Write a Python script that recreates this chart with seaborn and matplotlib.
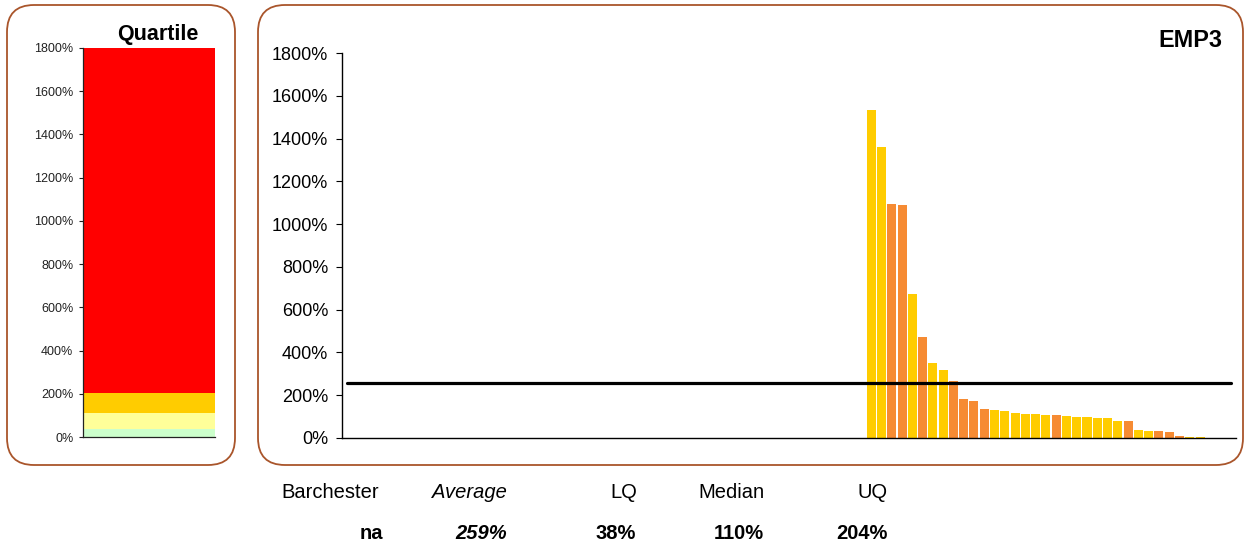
import numpy as np
import pandas as pd
import matplotlib
matplotlib.use("Agg")
import matplotlib.pyplot as plt
from matplotlib.patches import FancyBboxPatch
from matplotlib.ticker import FuncFormatter, MultipleLocator
import seaborn as sns

# ---- data ------------------------------------------------------------
n_slots = 87                      # category slots on the main axis
first_slot = 51                   # first organisation with a value
emp3_values = [1534, 1362, 1096, 1091, 672, 471, 350, 317, 266, 182,
               173, 135, 130, 126, 117, 112, 112, 107, 107, 103,
               98, 98, 93, 93, 79, 79, 37, 33, 33, 28,
               9, 4, 4]
emp3_groups = ["Y", "Y", "O", "O", "Y", "O", "Y", "Y", "O", "O",
               "O", "O", "Y", "Y", "Y", "Y", "Y", "Y", "O", "Y",
               "Y", "Y", "Y", "Y", "Y", "O", "Y", "Y", "O", "O",
               "O", "Y", "Y"]
average = 259
lq, median, uq, y_max = 38, 110, 204, 1800

quartile_bands = ["Top", "UQ", "Median", "LQ"]
quartile_tops = [y_max, uq, median, lq]

stat_headers = ["Barchester", "Average", "LQ", "Median", "UQ"]
stat_values = ["na", "259%", "38%", "110%", "204%"]

# ---- style -----------------------------------------------------------
sns.set_theme(style="white")
plt.rcParams["font.family"] = ["Liberation Sans", "DejaVu Sans"]
plt.rcParams["text.color"] = "black"

W, H = 1246, 544
fig = plt.figure(figsize=(W / 100, H / 100), dpi=100)


def px_axes(left, top, right, bottom):
    return fig.add_axes([left / W, (H - bottom) / H,
                         (right - left) / W, (bottom - top) / H])


edge_col = "#A9552B"
for (x0, y0, x1, y1) in [(7, 5, 235, 465), (258, 5, 1243, 465)]:
    box = FancyBboxPatch((x0 / 100, (H - y1) / 100),
                         (x1 - x0) / 100, (y1 - y0) / 100,
                         boxstyle="round,pad=0,rounding_size=0.27",
                         transform=fig.dpi_scale_trans,
                         facecolor="none", edgecolor=edge_col,
                         linewidth=1.3, zorder=-1)
    fig.patches.append(box)

pct = FuncFormatter(lambda v, _: f"{int(round(v))}%")

# ---- quartile panel --------------------------------------------------
axq = px_axes(83, 48, 215, 437)
axq.set_facecolor("none")
qdf = pd.DataFrame({"panel": ["q"] * 4, "band": quartile_bands,
                    "top": quartile_tops})
sns.barplot(data=qdf, x="panel", y="top", hue="band",
            hue_order=quartile_bands, dodge=False, width=1.0,
            palette=["#FF0000", "#FFCC00", "#FFFF99", "#CCFFCC"],
            saturation=1, linewidth=0, legend=False, ax=axq)
axq.set_xlim(-0.5, 0.5)
axq.set_ylim(0, y_max)
axq.yaxis.set_major_locator(MultipleLocator(200))
axq.yaxis.set_major_formatter(pct)
axq.set_xlabel("")
axq.set_ylabel("")
axq.set_xticks([])
for s in ["top", "right"]:
    axq.spines[s].set_visible(False)
for s in ["left", "bottom"]:
    axq.spines[s].set_color("#222222")
    axq.spines[s].set_linewidth(0.9)
axq.tick_params(axis="y", direction="out", length=3, width=0.8,
                color="#222222", labelsize=9, pad=4, left=True,
                labelcolor="#222222")

# ---- main panel ------------------------------------------------------
ax = px_axes(342, 53, 1236, 438)
ax.set_facecolor("none")
df = pd.DataFrame({"slot": np.arange(first_slot, first_slot + len(emp3_values)),
                   "value": emp3_values, "group": emp3_groups})
sns.barplot(data=df, x="slot", y="value", hue="group",
            order=list(range(n_slots)), hue_order=["Y", "O"],
            palette=["#FFCC00", "#F68B33"], dodge=False, width=0.88,
            saturation=1, linewidth=0, legend=False, ax=ax)
sns.lineplot(x=np.arange(n_slots), y=[average] * n_slots, color="black",
             linewidth=2.3, ax=ax, zorder=5)
ax.set_xlim(-0.5, n_slots - 0.5)
ax.set_ylim(0, y_max)
ax.yaxis.set_major_locator(MultipleLocator(200))
ax.yaxis.set_major_formatter(pct)
ax.set_xlabel("")
ax.set_ylabel("")
ax.set_xticks([])
for s in ["top", "right"]:
    ax.spines[s].set_visible(False)
for s in ["left", "bottom"]:
    ax.spines[s].set_color("black")
    ax.spines[s].set_linewidth(1.0)
ax.tick_params(axis="y", direction="out", length=4, width=0.8,
               color="black", labelsize=13, pad=6, left=True,
               labelcolor="black")

# ---- titles ----------------------------------------------------------
fig.text(158 / W, (H - 40) / H, "Quartile", ha="center", va="baseline",
         fontsize=15.5, fontweight="bold", color="black")
fig.text(1222 / W, (H - 47) / H, "EMP3", ha="right", va="baseline",
         fontsize=16.8, fontweight="bold", color="black")

# ---- summary table ---------------------------------------------------
head_x = [(281, "left"), (507, "right"), (637, "right"), (765, "right"), (888, "right")]
val_x = [383, 507, 636, 764, 888]
for i, (label, (hx, ha)) in enumerate(zip(stat_headers, head_x)):
    fig.text(hx / W, (H - 498) / H, label, ha=ha, va="baseline",
             fontsize=14.5, color="black",
             fontstyle="italic" if i == 1 else "normal")
for i, (val, vx) in enumerate(zip(stat_values, val_x)):
    fig.text(vx / W, (H - 539) / H, val, ha="right", va="baseline",
             fontsize=14.5, fontweight="bold", color="black",
             fontstyle="italic" if i == 1 else "normal")

fig.savefig("out.png", dpi=100, facecolor="white")
